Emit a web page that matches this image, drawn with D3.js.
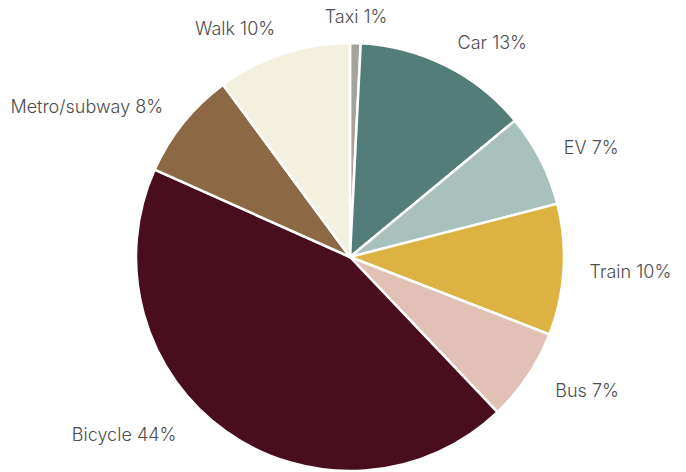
<!DOCTYPE html>
<html>
<head>
<meta charset="utf-8">
<script src="https://cdn.jsdelivr.net/npm/d3@7"></script>
<style>
  body { margin: 0; background: #fff; }
  text { font-family: Inter, Roboto, "Noto Sans", sans-serif; font-weight: 300; }
</style>
</head>
<body>
<svg id="chart" width="686" height="472"></svg>
<script>
const categories = ["Taxi", "Car", "EV", "Train", "Bus", "Bicycle", "Metro/subway", "Walk"];
const values = [0.8, 13.2, 7.0, 9.9, 7.0, 43.8, 8.2, 10.1];
const labels = ["Taxi 1%", "Car 13%", "EV 7%", "Train 10%", "Bus 7%", "Bicycle 44%", "Metro/subway 8%", "Walk 10%"];
const colors = ["#a5a49c", "#527d79", "#a8c1bc", "#dcb243", "#e2c0b6", "#480e1e", "#8c6844", "#f3f0e0"];

const W = 686, H = 472;
const cx = 350, cy = 257, R = 214, labelR = 240;

const svg = d3.select("#chart");
const g = svg.append("g").attr("transform", "translate(" + cx + "," + cy + ")");

const pie = d3.pie().sort(null).value(d => d.value);
const arcs = pie(categories.map((c, i) => ({name: c, value: values[i], label: labels[i], color: colors[i]})));

const arc = d3.arc().innerRadius(0).outerRadius(R);

g.selectAll("path.slice")
  .data(arcs).enter()
  .append("path")
  .attr("class", "slice")
  .attr("d", arc)
  .style("fill", d => d.data.color)
  .style("stroke", "#fff")
  .style("stroke-width", 2.5)
  .style("stroke-linejoin", "round");

// labels sit just outside the rim, anchored away from the pie
g.selectAll("text.lbl")
  .data(arcs).enter()
  .append("text")
  .attr("class", "lbl")
  .each(function(d) {
    let a = (d.startAngle + d.endAngle) / 2;
    let x = labelR * Math.sin(a);
    let y = -labelR * Math.cos(a);
    let anchor = "middle";
    if (Math.sin(a) > 0.15) anchor = "start";
    else if (Math.sin(a) < -0.15) anchor = "end";
    // big bottom slice: push label toward its lower-left corner
    if (d.data.name == "Bicycle") { x -= 35; y -= 18; }
    if (d.data.name == "Bus") { x += 6; }
    d3.select(this)
      .attr("x", x)
      .attr("y", y)
      .attr("dy", "0.35em")
      .attr("text-anchor", anchor);
  })
  .style("font-size", "18px")
  .style("fill", "#4d4d4d")
  .text(d => d.data.label);
</script>
</body>
</html>
